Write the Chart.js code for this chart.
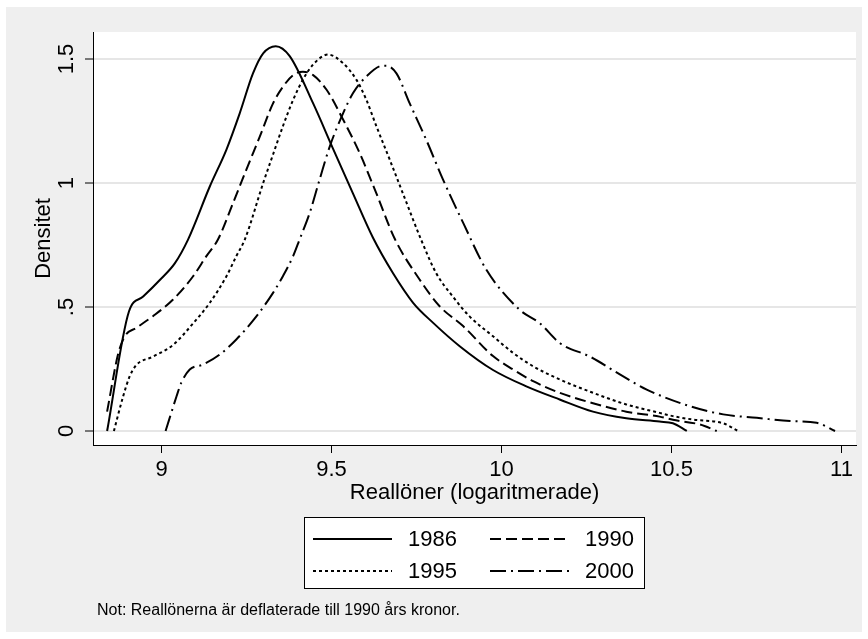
<!DOCTYPE html>
<html>
<head>
<meta charset="utf-8">
<title>Reallöner - kärnskattning</title>
<script src="https://cdn.jsdelivr.net/npm/chart.js@4.4.1/dist/chart.umd.min.js"></script>
<style>
  html, body { margin: 0; padding: 0; background: #ffffff; }
  canvas { display: block; }
</style>
</head>
<body>
<canvas id="densityChart" width="868" height="639"></canvas>
<script>
// values
const seriesNames = ["1986", "1990", "1995", "2000"];

const x1986 = [8.840, 8.904, 8.946, 8.995, 9.039, 9.078, 9.142, 9.191, 9.230, 9.269, 9.299, 9.336, 9.377, 9.446, 9.504, 9.563, 9.622, 9.681, 9.740, 9.799, 9.877, 9.975, 10.073, 10.171, 10.269, 10.367, 10.465, 10.504, 10.545];
const y1986 = [0, 0.481, 0.542, 0.609, 0.676, 0.772, 0.986, 1.135, 1.281, 1.442, 1.523, 1.552, 1.512, 1.321, 1.140, 0.958, 0.779, 0.636, 0.517, 0.436, 0.342, 0.246, 0.180, 0.127, 0.078, 0.051, 0.038, 0.031, 0];

const x1990 = [8.840, 8.872, 8.892, 8.926, 8.975, 9.034, 9.093, 9.132, 9.166, 9.210, 9.249, 9.289, 9.328, 9.357, 9.387, 9.416, 9.446, 9.485, 9.534, 9.583, 9.632, 9.686, 9.759, 9.818, 9.887, 9.975, 10.034, 10.093, 10.171, 10.269, 10.367, 10.465, 10.504, 10.584, 10.633];
const y1990 = [0.078, 0.308, 0.382, 0.416, 0.463, 0.530, 0.624, 0.705, 0.772, 0.918, 1.052, 1.187, 1.321, 1.388, 1.435, 1.449, 1.435, 1.377, 1.256, 1.120, 0.958, 0.775, 0.611, 0.503, 0.423, 0.302, 0.248, 0.201, 0.154, 0.112, 0.078, 0.058, 0.045, 0.026, 0];

const x1995 = [8.860, 8.887, 8.906, 8.926, 8.975, 9.034, 9.093, 9.142, 9.191, 9.220, 9.245, 9.299, 9.328, 9.357, 9.387, 9.416, 9.446, 9.490, 9.534, 9.573, 9.602, 9.632, 9.671, 9.710, 9.764, 9.808, 9.857, 9.906, 9.975, 10.034, 10.093, 10.171, 10.269, 10.367, 10.465, 10.504, 10.563, 10.652, 10.696];
const y1995 = [0, 0.139, 0.219, 0.266, 0.300, 0.347, 0.434, 0.517, 0.624, 0.705, 0.772, 1.000, 1.115, 1.229, 1.335, 1.417, 1.478, 1.518, 1.483, 1.417, 1.337, 1.229, 1.095, 0.958, 0.770, 0.636, 0.542, 0.462, 0.382, 0.315, 0.261, 0.208, 0.154, 0.107, 0.073, 0.060, 0.046, 0.031, 0];

const x2000 = [9.012, 9.044, 9.058, 9.083, 9.122, 9.171, 9.220, 9.279, 9.328, 9.357, 9.387, 9.406, 9.436, 9.465, 9.495, 9.534, 9.563, 9.602, 9.651, 9.661, 9.691, 9.730, 9.779, 9.828, 9.888, 9.956, 10.054, 10.113, 10.172, 10.260, 10.358, 10.427, 10.554, 10.652, 10.751, 10.849, 10.927, 10.981];
const y2000 = [0, 0.139, 0.194, 0.248, 0.268, 0.308, 0.369, 0.462, 0.557, 0.624, 0.705, 0.772, 0.880, 1.014, 1.148, 1.281, 1.362, 1.429, 1.473, 1.473, 1.442, 1.321, 1.173, 1.014, 0.837, 0.649, 0.488, 0.434, 0.354, 0.300, 0.220, 0.167, 0.100, 0.067, 0.053, 0.040, 0.033, 0];

const xTicks = [9, 9.5, 10, 10.5, 11];
const xTickLabels = ["9", "9.5", "10", "10.5", "11"];
const yTicks = [0, 0.5, 1, 1.5];
const yTickLabels = ["0", ".5", "1", "1.5"];

const xTitle = "Reallöner (logaritmerade)";
const yTitle = "Densitet";
const noteText = "Not: Reallönerna är deflaterade till 1990 års kronor.";

const fontFamily = "'Liberation Sans', Arial, Helvetica, sans-serif";

function toPoints(xs, ys) {
    return xs.map((x, i) => ({ x: x, y: ys[i] }));
}

const dashes = [[], [11, 5], [3, 3], [16, 5, 2, 5]];
const allX = [x1986, x1990, x1995, x2000];
const allY = [y1986, y1990, y1995, y2000];

const datasets = seriesNames.map((name, i) => ({
    label: name,
    data: toPoints(allX[i], allY[i]),
    borderColor: "#000000",
    borderWidth: 2,
    borderDash: dashes[i],
    borderCapStyle: "butt",
    pointRadius: 0,
    fill: false,
    cubicInterpolationMode: "monotone"
}));

// gray frame, white plot region, boxed two-column legend and note
const stataLook = {
    id: "stataLook",
    beforeDraw(chart) {
        const { ctx, chartArea } = chart;
        ctx.save();
        ctx.fillStyle = "#ffffff";
        ctx.fillRect(0, 0, chart.width, chart.height);
        ctx.fillStyle = "#efefef";
        ctx.fillRect(6, 7, chart.width - 12, chart.height - 14);
        ctx.fillStyle = "#ffffff";
        ctx.fillRect(chartArea.left, chartArea.top, chartArea.right - chartArea.left, chartArea.bottom - chartArea.top);
        ctx.restore();
    },
    afterDraw(chart) {
        const ctx = chart.ctx;
        ctx.save();
        // legend box
        ctx.fillStyle = "#ffffff";
        ctx.fillRect(304, 517, 340, 71);
        ctx.strokeStyle = "#000000";
        ctx.lineWidth = 1;
        ctx.setLineDash([]);
        ctx.strokeRect(304.5, 517.5, 340, 71);

        ctx.font = "22px " + fontFamily;
        ctx.textBaseline = "middle";
        ctx.textAlign = "left";
        chart.data.datasets.forEach((ds, i) => {
            const col = i % 2;
            const row = Math.floor(i / 2);
            const x0 = 313 + col * 177;
            const y = 539 + row * 32;
            ctx.strokeStyle = ds.borderColor;
            ctx.lineWidth = ds.borderWidth;
            ctx.setLineDash(ds.borderDash);
            ctx.beginPath();
            ctx.moveTo(x0, y);
            ctx.lineTo(x0 + 79, y);
            ctx.stroke();
            ctx.setLineDash([]);
            ctx.fillStyle = "#000000";
            ctx.fillText(ds.label, x0 + 95, y + 1);
        });

        // note
        ctx.font = "16px " + fontFamily;
        ctx.fillStyle = "#000000";
        ctx.fillText(noteText, 97, 611);
        ctx.restore();
    }
};

const ctx = document.getElementById("densityChart").getContext("2d");
new Chart(ctx, {
    type: "line",
    data: { datasets: datasets },
    plugins: [stataLook],
    options: {
        responsive: false,
        animation: false,
        devicePixelRatio: 1,
        layout: { padding: { left: 7, top: 32, right: 12, bottom: 131 } },
        plugins: {
            legend: { display: false },
            tooltip: { enabled: false }
        },
        scales: {
            x: {
                type: "linear",
                min: 8.7985,
                max: 11.0426,
                afterBuildTicks: (scale) => { scale.ticks = xTicks.map(v => ({ value: v })); },
                afterFit: (scale) => { scale.height = 63; },
                ticks: {
                    callback: (value, index) => xTickLabels[index],
                    color: "#000000",
                    font: { family: fontFamily, size: 22 },
                    padding: 4,
                    maxRotation: 0,
                    autoSkip: false
                },
                grid: {
                    drawOnChartArea: false,
                    drawTicks: true,
                    tickLength: 8,
                    tickColor: "#000000",
                    tickWidth: 1
                },
                border: { color: "#000000", width: 1 },
                title: {
                    display: true,
                    text: xTitle,
                    color: "#000000",
                    font: { family: fontFamily, size: 22 },
                    padding: { top: 0, bottom: 2 }
                }
            },
            y: {
                type: "linear",
                min: -0.0565,
                max: 1.609,
                afterBuildTicks: (scale) => { scale.ticks = yTicks.map(v => ({ value: v })); },
                afterFit: (scale) => { scale.width = 86; },
                ticks: {
                    callback: (value, index) => yTickLabels[index],
                    color: "#000000",
                    font: { family: fontFamily, size: 22 },
                    padding: 3,
                    minRotation: 90,
                    maxRotation: 90,
                    crossAlign: "center"
                },
                grid: {
                    color: "#e6e6e6",
                    lineWidth: 2,
                    tickLength: 8,
                    tickColor: "#000000",
                    tickWidth: 1
                },
                border: { color: "#000000", width: 1 },
                title: {
                    display: true,
                    text: yTitle,
                    color: "#000000",
                    font: { family: fontFamily, size: 22 },
                    padding: { top: 24, bottom: 0 }
                }
            }
        }
    }
});
</script>
</body>
</html>
